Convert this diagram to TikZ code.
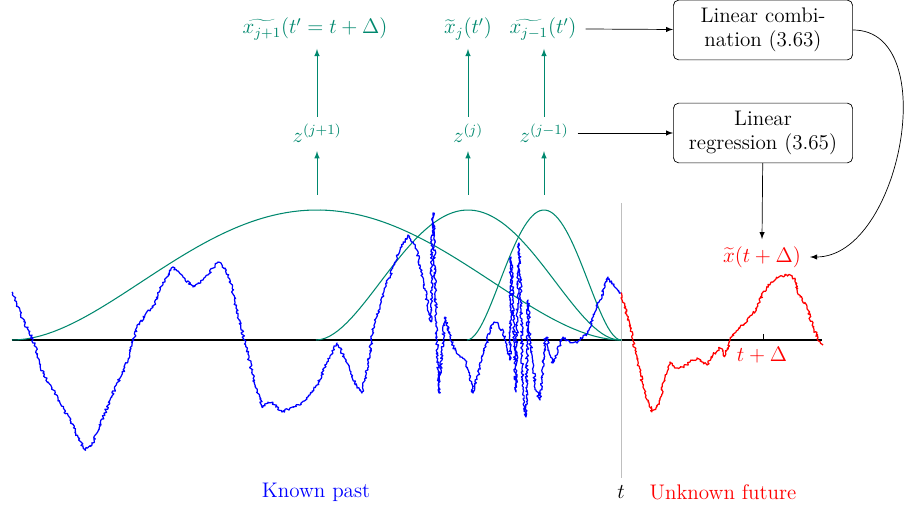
\documentclass[tikz,border=0pt]{standalone}
\usetikzlibrary{decorations.pathmorphing}
\definecolor{wavgreen}{RGB}{0,136,110}
\begin{document}
\begin{tikzpicture}[x=0.02cm, y=-0.02cm, >=latex, font=\large,
  box/.style={draw, rounded corners=3pt, align=center, minimum width=102pt, minimum height=34pt, inner sep=2pt},
  lbl/.style={inner sep=2pt},
  wav/.style={wavgreen, semithick},
  noisy/.style={line width=0.7pt, line join=round, decorate, decoration={random steps, segment length=0.8pt, amplitude=0.8pt}}]
  \useasboundingbox (0,0) rectangle (904,510);
  \pgfmathsetseed{7}

  % time axis and present
  \draw[semithick] (12,340) -- (822,340);
  \draw[black!25] (621,203) -- (621,478);
  \draw (763,334) -- (763,340);
  \node[red, lbl] (tdelta) at (762,355) {$t+\Delta$};
  \node[lbl] (tnow) at (621,492) {$t$};
  \node[blue, lbl] (past) at (316,492) {Known past};
  \node[red, lbl] (future) at (723,492) {Unknown future};

  % wavelet supports
  \draw[wav] plot[domain=-1:1, samples=90] ({317+305*\x}, {340-130*(1-\x*\x)*(1-\x*\x)});
  \draw[wav] plot[domain=-1:1, samples=70] ({468+152*\x}, {340-130*(1-\x*\x)*(1-\x*\x)});
  \draw[wav] plot[domain=-1:1, samples=60] ({544+77*\x}, {340-130*(1-\x*\x)*(1-\x*\x)});

  % known past
  \draw[blue, noisy] plot coordinates {
    (12,292) (22,318) (33,340) (43,373) (52,388) (60,403) (70,420) (78,437)
    (85,450) (92,445) (97,433) (110,400) (118,382) (127,363) (137,327) (145,315)
    (153,307) (158,295) (163,283) (173,267) (183,277) (193,287) (203,280) (210,272)
    (218,262) (225,268) (230,280) (238,315) (247,350) (255,385) (263,407) (268,402)
    (273,403) (282,412) (290,408) (300,405) (310,395) (317,385) (327,362) (337,343)
    (347,363) (357,388) (362,392) (368,365) (373,330) (380,305) (387,283) (395,262)
    (400,250) (408,235) (417,250) (420,265) (426,295) (431,322) (432,240) (433,213)
    (434,230) (435,283) (437,340) (439,393) (442,350) (445,317) (450,337) (455,350)
    (460,357) (465,360) (470,378) (473,393) (478,375) (482,360) (490,330) (494,322)
    (498,323) (503,333) (507,345) (510,360) (511,257) (513,300) (516,392) (517,330)
    (519,243) (521,300) (523,393) (526,417) (528,300) (530,340) (533,363) (536,390)
    (540,400) (542,380) (545,340) (547,337) (550,355) (553,363) (558,350) (563,337)
    (570,342) (577,343) (583,337) (588,333) (593,317) (600,300) (605,287) (608,277)
    (612,283) (616,288) (621,293)};

  % unknown future
  \draw[red, noisy] plot coordinates {
    (621,293) (627,315) (633,340) (638,362) (643,387) (648,402) (652,412) (656,408)
    (660,400) (665,375) (670,362) (676,368) (683,367) (690,362) (697,358) (702,362)
    (707,365) (713,355) (720,348) (725,356) (730,340) (738,330) (747,320) (752,315)
    (757,307) (762,295) (767,287) (772,282) (777,278) (782,276) (787,275) (792,276)
    (795,280) (800,297) (807,307) (813,327) (818,338) (822,345)};

  % coefficients and estimates
  \coordinate (b1) at (317,195);
  \coordinate (b2) at (468,195);
  \coordinate (b3) at (544,195);
  \node[wavgreen, lbl] (z1) at (317,133) {$z^{(j+1)}$};
  \node[wavgreen, lbl] (z2) at (468,133) {$z^{(j)}$};
  \node[wavgreen, lbl] (z3) at (544,133) {$z^{(j-1)}$};
  \node[wavgreen, lbl] (x1) at (315,29) {$\widetilde{x_{j+1}}(t'=t+\Delta)$};
  \node[wavgreen, lbl] (x2) at (468,29) {$\widetilde{x}_j(t')$};
  \node[wavgreen, lbl] (x3) at (543,29) {$\widetilde{x_{j-1}}(t')$};
  \draw[->, wavgreen] (b1) -- ([yshift=-3pt]z1.south);
  \draw[->, wavgreen] (b2) -- ([yshift=-3pt]z2.south -| b2);
  \draw[->, wavgreen] (b3) -- ([yshift=-3pt]z3.south -| b3);
  \draw[->, wavgreen] ([yshift=2pt]z1.north) -- ([yshift=-3pt]x1.south -| z1);
  \draw[->, wavgreen] ([yshift=2pt]z2.north -| b2) -- ([yshift=-3pt]x2.south -| b2);
  \draw[->, wavgreen] ([yshift=2pt]z3.north -| b3) -- ([yshift=-3pt]x3.south -| b3);

  % predictors
  \node[box] (comb) at (763,30) {Linear combi-\\nation (3.63)};
  \node[box] (regr) at (763,133) {Linear\\regression (3.65)};
  \node[red, lbl] (xt) at (762,257) {$\widetilde{x}(t+\Delta)$};
  \draw[->] ([xshift=3pt]x3.east) -- (comb);
  \draw[->] ([xshift=3pt]z3.east) -- (regr);
  \draw[->] (regr) -- ([yshift=2pt]xt.north);
  \draw[->] (comb.east) to[out=0, in=0] ([xshift=3pt]xt.east);
\end{tikzpicture}
\end{document}
